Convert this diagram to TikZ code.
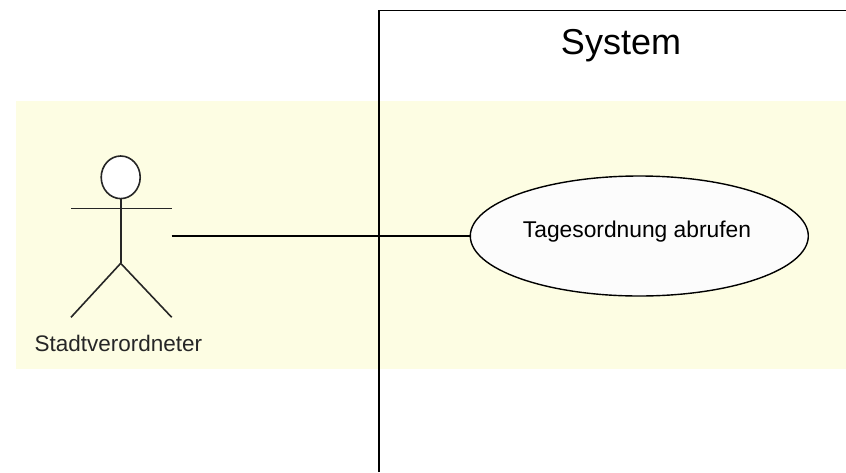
\documentclass[tikz,border=0pt]{standalone}
\usepackage{fontspec}
\setmainfont{Liberation Sans}
\usetikzlibrary{shapes.geometric}
\definecolor{bandyellow}{HTML}{FDFDE3}
\definecolor{usefill}{HTML}{FCFCFC}
\tikzset{
  umlline/.style={draw=black, line width=1.4pt},
  actorline/.style={draw=black!85, line width=1.6pt},
  usecase/.style={ellipse, draw=black, line width=1.4pt, fill=usefill,
    minimum width=338pt, minimum height=120pt, inner sep=0pt},
  lbl/.style={font=\fontsize{22.5}{26}\selectfont, text=black!85, inner sep=0pt}
}
\begin{document}
\begin{tikzpicture}[x=1pt, y=-1pt]
\useasboundingbox (0,0) rectangle (846,472);
\fill[white] (0,0) rectangle (846,472);
% yellow band
\fill[bandyellow] (16,101) rectangle (846,369);
% system boundary
\coordinate (sysbot) at (379,472);
\coordinate (systl) at (379,10.5);
\coordinate (sysright) at (846,10.5);
\draw[umlline] (sysbot) -- (systl) -- (sysright);
\node[font=\fontsize{36}{40}\selectfont, inner sep=0pt] (systitle) at (621,46) {System};
% actor
\node[ellipse, draw=black!85, line width=1.6pt, fill=white, minimum width=39pt, minimum height=42.6pt, inner sep=0pt] (head) at (120.7,177.3) {};
\coordinate (armL) at (71,208.3);
\coordinate (armR) at (171.7,208.3);
\coordinate (hip) at (120.7,263.3);
\coordinate (footL) at (71,317.3);
\coordinate (footR) at (171.7,317.3);
\draw[actorline] (armL) -- (armR);
\draw[actorline] (head.south) -- (hip);
\draw[actorline] (footL) -- (hip) -- (footR);
\node[lbl] (actorlabel) at (118.3,343.3) {Stadtverordneter};
% use case
\node[usecase] (uc) at (639.3,236) {};
\node[lbl, text=black, font=\fontsize{22.8}{26}\selectfont] (uctext) at (637,232) {Tagesordnung abrufen};
% association
\coordinate (assocstart) at (171.7,236);
\draw[umlline] (assocstart) -- (uc.west);
\end{tikzpicture}
\end{document}
